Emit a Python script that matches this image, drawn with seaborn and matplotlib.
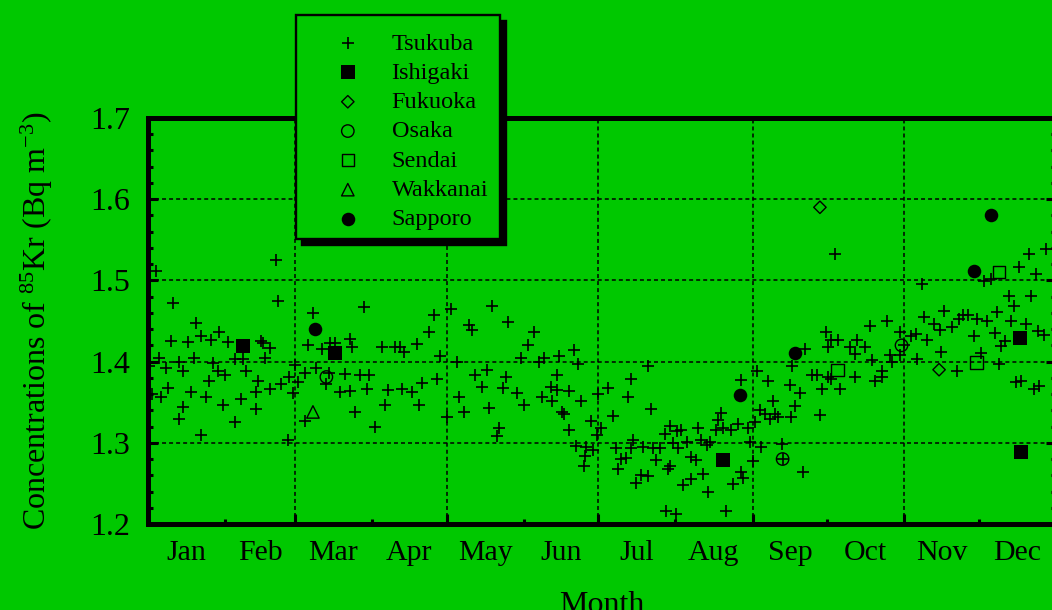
import matplotlib
matplotlib.use("Agg")
import matplotlib.pyplot as plt
from matplotlib.patches import Rectangle
from matplotlib.ticker import FixedLocator, MultipleLocator, NullFormatter, FormatStrFormatter
import pandas as pd
import seaborn as sns

BG = "#00c800"

# Month names and first day of each month (day of year, non-leap year)
months = ["Jan", "Feb", "Mar", "Apr", "May", "Jun",
          "Jul", "Aug", "Sep", "Oct", "Nov", "Dec"]
month_start = [0, 31, 59, 90, 120, 151, 181, 212, 243, 273, 304, 334, 365]

# Tsukuba: day of year / 85Kr concentration (Bq m-3)
tsukuba_day = [
    0.2, 1.8, 3.1, 4.5, 5.1, 7.1, 8.1, 9.1, 10.1, 12.3, 12.3, 14.1, 14.1, 16.1, 17.2,
    18.4, 19.4, 21.2, 21.2, 23.2, 24.4, 25.2, 26.1, 28.2, 28.4, 30.2, 31.1, 32.2, 34.8,
    35.1, 37.2, 38.2, 39.2, 43.3, 43.3, 44.2, 45.3, 46.2, 47.2, 49.2, 49.2, 51.3, 52.3,
    53.3, 56.3, 56.5, 58.3, 58.9, 60.3, 63.3, 63.3, 64.3, 66.3, 67.4, 70.0, 71.4,
    72.9, 73.3, 75.0, 77.0, 79.3, 81.0, 81.0, 82.2, 83.3, 85.3, 87.0, 88.2, 89.0, 91.3,
    94.0, 95.3, 96.4, 99.1, 101.4, 102.3, 103.1, 106.3, 108.3, 109.1, 110.3, 113.0,
    115.0, 116.1, 117.2, 120.1, 121.9, 124.4, 125.2, 127.1, 129.2, 130.4, 131.5, 134.2,
    136.2, 137.1, 138.2, 140.2, 141.1, 142.9, 143.9, 144.6,
    148.2, 150.0, 151.2, 152.9, 155.2, 157.3, 158.3, 159.2, 162.0, 162.3, 164.3, 164.3,
    165.4, 166.3, 167.4, 169.4, 169.4, 171.3, 172.1, 173.0, 174.1, 175.3, 175.7, 176.1,
    178.1, 179.0, 180.4, 181.0, 182.1, 185.0, 186.8, 188.1, 189.1, 190.1, 192.0, 193.1,
    194.0, 194.2, 195.1, 196.2, 198.2, 199.1, 201.1, 201.1, 202.2, 202.9, 204.2, 205.8,
    207.8, 208.1, 209.1, 209.8, 209.8, 211.1, 212.1, 212.5, 213.2, 214.2, 214.9, 216.5,
    218.3, 218.3, 220.3, 221.2, 222.3, 223.2, 224.6, 225.2, 225.9, 228.2, 229.0, 230.3,
    231.2, 232.2, 234.3, 235.2, 237.0, 238.3, 238.3, 239.3, 241.3, 242.0, 243.3, 244.0,
    245.0, 246.0, 246.4, 248.0, 249.1, 250.0, 251.3, 252.0, 253.3, 254.7, 255.1, 258.1,
    258.4, 258.9, 260.0, 262.0, 263.4, 264.3, 267.1, 269.1, 270.1, 271.1, 272.4, 273.2,
    273.4, 274.4, 274.5, 276.1, 277.4, 278.1, 282.1, 284.1, 284.1, 285.2, 288.1,
    290.1, 291.1, 292.2, 295.1, 295.1, 297.1, 298.2, 299.1, 302.2, 302.2, 303.9, 306.6,
    308.9, 309.3, 311.2, 312.0, 313.2, 315.9, 318.3, 318.9, 320.0, 323.2, 325.4, 326.0,
    327.6, 329.6, 332.0, 333.4, 335.0, 336.1, 337.3, 338.7, 340.4, 341.3, 342.1, 343.0,
    344.4, 346.1, 347.1, 348.1, 349.1, 350.1, 350.8, 353.1, 354.1, 355.1, 356.1, 357.1,
    357.7, 358.0, 360.2, 360.8,
]
tsukuba_conc = [
    1.395, 1.360, 1.512, 1.405, 1.356, 1.392, 1.368, 1.425, 1.472, 1.399, 1.329, 1.388,
    1.344, 1.424, 1.363, 1.405, 1.448, 1.432, 1.309, 1.356, 1.376, 1.427, 1.398, 1.389,
    1.437, 1.346, 1.383, 1.424, 1.325, 1.403, 1.354, 1.403, 1.388, 1.363, 1.342, 1.376,
    1.425, 1.423, 1.405, 1.417, 1.366, 1.525, 1.475, 1.373, 1.303, 1.381, 1.361, 1.396,
    1.375, 1.386, 1.327, 1.420, 1.460, 1.392, 1.415, 1.372,
    1.386, 1.423, 1.423, 1.362, 1.385, 1.428, 1.364, 1.418, 1.338, 1.384, 1.467, 1.366,
    1.383, 1.319, 1.418, 1.346, 1.365, 1.418, 1.418, 1.366, 1.412, 1.362, 1.422, 1.347,
    1.374, 1.436, 1.457, 1.378, 1.407, 1.332, 1.465, 1.400, 1.356, 1.338, 1.445, 1.439,
    1.383, 1.369, 1.390, 1.343, 1.468, 1.308, 1.318, 1.368, 1.381, 1.449,
    1.361, 1.404, 1.347, 1.420, 1.436, 1.399, 1.357, 1.405, 1.369, 1.351, 1.383, 1.365,
    1.407, 1.338, 1.335, 1.364, 1.316, 1.414, 1.296, 1.397, 1.352, 1.272, 1.284, 1.295,
    1.327, 1.291, 1.310, 1.360, 1.318, 1.367, 1.333, 1.293, 1.268, 1.280, 1.281, 1.356,
    1.379, 1.293, 1.303, 1.251, 1.260, 1.295, 1.395, 1.259, 1.341, 1.294, 1.279, 1.293,
    1.311, 1.216, 1.268, 1.271, 1.321, 1.300, 1.212, 1.314, 1.293, 1.316, 1.248, 1.301,
    1.283, 1.255, 1.279, 1.318, 1.303, 1.262, 1.297, 1.239, 1.301, 1.316, 1.328, 1.337,
    1.318, 1.216, 1.316, 1.249, 1.323, 1.377, 1.264, 1.257, 1.318, 1.301, 1.277, 1.325,
    1.389, 1.340, 1.295, 1.336, 1.376, 1.329, 1.351, 1.336, 1.332, 1.299, 1.280, 1.371,
    1.332, 1.394, 1.345, 1.361, 1.264, 1.416, 1.383, 1.384, 1.334, 1.366, 1.436, 1.418,
    1.381, 1.378, 1.427, 1.533, 1.427, 1.366, 1.418, 1.409, 1.381, 1.427, 1.418,
    1.444, 1.402, 1.376, 1.389, 1.381, 1.450, 1.408, 1.399, 1.436, 1.408, 1.420, 1.431,
    1.434, 1.403, 1.495, 1.455, 1.427, 1.446, 1.439, 1.412, 1.462, 1.443, 1.388, 1.452,
    1.457, 1.457, 1.432, 1.452, 1.411, 1.499, 1.450, 1.502, 1.435, 1.461, 1.397, 1.419,
    1.425, 1.481, 1.450, 1.469, 1.375, 1.516, 1.376, 1.446, 1.533, 1.481, 1.366, 1.508,
    1.438, 1.370, 1.433, 1.539,
]

ishigaki_day = [38.2, 75.0, 231.2, 350.6, 351.1]
ishigaki_conc = [1.419, 1.410, 1.279, 1.429, 1.289]
fukuoka_day = [270.1, 318.0]
fukuoka_conc = [1.590, 1.390]
osaka_day = [71.7, 255.1, 302.9]
osaka_conc = [1.381, 1.280, 1.420]
sendai_day = [277.2, 333.0, 342.1]
sendai_conc = [1.390, 1.399, 1.510]
wakkanai_day = [66.3]
wakkanai_conc = [1.338]
sapporo_day = [67.1, 238.0, 260.0, 331.9, 338.7]
sapporo_conc = [1.440, 1.359, 1.410, 1.511, 1.581]

sns.set_theme(style="ticks")
plt.rcParams.update({
    "font.family": ["Liberation Serif", "DejaVu Serif"],
    "mathtext.default": "regular",
    "axes.edgecolor": "black",
    "axes.labelcolor": "black",
    "text.color": "black",
    "xtick.color": "black",
    "ytick.color": "black",
})

fig = plt.figure(figsize=(10.52, 6.10), dpi=100, facecolor=BG)
ax = fig.add_axes([0.1407, 0.141, 0.8631, 0.6656])
ax.set_facecolor(BG)

series = [
    ("Tsukuba", tsukuba_day, tsukuba_conc,
     dict(marker="+", s=70, color="black", linewidth=1.2)),
    ("Ishigaki", ishigaki_day, ishigaki_conc,
     dict(marker="s", s=100, color="black", edgecolor="black", linewidth=0)),
    ("Fukuoka", fukuoka_day, fukuoka_conc,
     dict(marker="D", s=40, color="black", facecolor="none", edgecolor="black", linewidth=1.0)),
    ("Osaka", osaka_day, osaka_conc,
     dict(marker="o", s=80, color="black", facecolor="none", edgecolor="black", linewidth=1.0)),
    ("Sendai", sendai_day, sendai_conc,
     dict(marker="s", s=78, color="black", facecolor="none", edgecolor="black", linewidth=1.0)),
    ("Wakkanai", wakkanai_day, wakkanai_conc,
     dict(marker="^", s=80, color="black", facecolor="none", edgecolor="black", linewidth=1.0)),
    ("Sapporo", sapporo_day, sapporo_conc,
     dict(marker="o", s=95, color="black", edgecolor="black", linewidth=0)),
]
for name, d, c, kw in series:
    df = pd.DataFrame({"day": d, "conc": c})
    sns.scatterplot(data=df, x="day", y="conc", ax=ax, label=name,
                    legend=False, zorder=3, **kw)
if ax.get_legend() is not None:
    ax.get_legend().remove()

# Axis limits and ticks
ax.set_xlim(month_start[0], month_start[-1])
ax.set_ylim(1.2, 1.7)
ax.xaxis.set_major_locator(FixedLocator(month_start[::2]))
ax.xaxis.set_minor_locator(FixedLocator(month_start[1::2]))
ax.xaxis.set_major_formatter(NullFormatter())
ax.yaxis.set_major_locator(MultipleLocator(0.1))
ax.yaxis.set_minor_locator(MultipleLocator(0.02))
ax.yaxis.set_major_formatter(FormatStrFormatter("%.1f"))
ax.tick_params(which="both", direction="in", top=False, right=True,
               width=2.2, color="black")
ax.tick_params(which="major", length=7.5)
ax.tick_params(which="minor", length=3.3)
ax.tick_params(axis="y", which="major", labelsize=23, pad=13)

for sp in ax.spines.values():
    sp.set_linewidth(3.6)
    sp.set_color("black")

ax.set_axisbelow(True)
ax.grid(True, which="major", color="black", linewidth=1.1,
        linestyle=(0, (2.6, 2.0)))

# Month names centred in each month
for i, m in enumerate(months):
    mid = 0.5 * (month_start[i] + month_start[i + 1])
    ax.text(mid, -0.0887, m, transform=ax.get_xaxis_transform(),
            ha="center", va="baseline", fontsize=21.5)

ax.set_xlabel("Month", fontsize=23)
ax.xaxis.set_label_coords(0.5, -0.165)
ax.set_ylabel(r"Concentrations of $^{85}$Kr (Bq m$^{-3}$)", fontsize=23)
ax.yaxis.set_label_coords(-0.102, 0.5)

# Legend box with a solid drop shadow
W, H = 1052.0, 610.0
bx0, by0, bx1, by1 = 296, 15, 500, 239
off = 6
fig.patches.append(Rectangle(((bx0 + off) / W, (H - by1 - off) / H),
                             (bx1 - bx0) / W, (by1 - by0) / H,
                             transform=fig.transFigure, facecolor="black",
                             edgecolor="black", linewidth=1.7, zorder=4))
fig.patches.append(Rectangle((bx0 / W, (H - by1) / H),
                             (bx1 - bx0) / W, (by1 - by0) / H,
                             transform=fig.transFigure, facecolor=BG,
                             edgecolor="black", linewidth=1.7, zorder=4.5))

handles, labels = ax.get_legend_handles_labels()
leg = fig.legend(handles, labels, loc="upper left",
                 bbox_to_anchor=(323.5 / W, (H - 32.5) / H),
                 bbox_transform=fig.transFigure, frameon=False,
                 borderpad=0, borderaxespad=0, handlelength=2.0,
                 handletextpad=0.8, labelspacing=0.3, fontsize=17.5,
                 scatterpoints=1)
leg.set_zorder(6)

fig.savefig("out.png", dpi=100, facecolor=BG)
